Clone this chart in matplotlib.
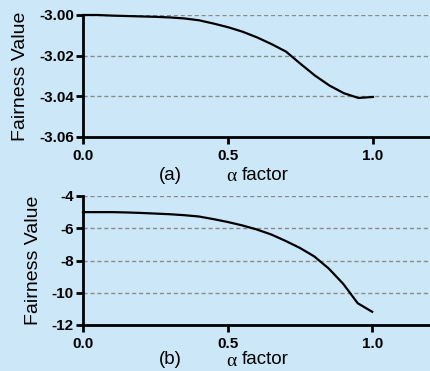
import matplotlib
matplotlib.use("Agg")
import matplotlib.pyplot as plt
import numpy as np

alpha = [0.0, 0.05, 0.1, 0.15, 0.2, 0.25, 0.3, 0.35, 0.4, 0.45, 0.5,
         0.55, 0.6, 0.65, 0.7, 0.75, 0.8, 0.85, 0.9, 0.95, 1.0]
fair_a = [-3.0000, -3.0000, -3.0003, -3.0005, -3.0007, -3.0009, -3.0012,
          -3.0017, -3.0026, -3.0042, -3.0060, -3.0082, -3.0110, -3.0143,
          -3.0180, -3.0240, -3.0298, -3.0347, -3.0385, -3.0408, -3.0403]
fair_b = [-5.0, -5.0, -5.0, -5.02, -5.05, -5.09, -5.13, -5.19, -5.27, -5.43,
          -5.61, -5.82, -6.07, -6.38, -6.78, -7.22, -7.75, -8.5, -9.45, -10.65,
          -11.18]
xticks = [0.0, 0.5, 1.0]
xticklabels = ["0.0", "0.5", "1.0"]
yticks_a = [-3.06, -3.04, -3.02, -3.00]
yticklabels_a = ["-3.06", "-3.04", "-3.02", "-3.00"]
yticks_b = [-12, -10, -8, -6, -4]
yticklabels_b = ["-12", "-10", "-8", "-6", "-4"]

bg = "#cce8f8"
W, H = 430, 371
fig = plt.figure(figsize=(W / 100, H / 100), dpi=100, facecolor=bg)

def px_axes(left, top, right, bottom):
    return fig.add_axes([left / W, 1 - bottom / H, (right - left) / W, (bottom - top) / H])

panels = [
    (px_axes(83, 15, 431, 137), fair_a, yticks_a, yticklabels_a, (-3.06, -3.00), "(a)", 175),
    (px_axes(83, 196, 430, 325), fair_b, yticks_b, yticklabels_b, (-12, -4), "(b)", 360),
]

for ax, ys, yt, ytl, ylim, tag, ty in panels:
    ax.set_facecolor(bg)
    for y in yt[1:]:
        ax.axhline(y, color="#8a8a8a", lw=1.0, ls=(0, (3, 2)), zorder=1)
    ax.plot(alpha, ys, color="black", lw=1.6, zorder=3, clip_on=False)
    ax.set_xlim(0, 1.2)
    ax.set_ylim(*ylim)
    ax.set_xticks(xticks)
    ax.set_xticklabels(xticklabels, fontsize=11, fontweight="bold", family="Liberation Sans")
    ax.set_yticks(yt)
    ax.set_yticklabels(ytl, fontsize=11, fontweight="bold", family="Liberation Sans")
    for s in ["top", "right"]:
        ax.spines[s].set_visible(False)
    for s in ["left", "bottom"]:
        ax.spines[s].set_linewidth(2)
    ax.tick_params(axis="both", direction="out", length=5, width=2)
    ax.tick_params(axis="x", pad=4)
    ax.tick_params(axis="y", pad=1.5)
    ax.set_ylabel("Fairness Value", fontsize=14, family="Liberation Sans", labelpad=7)
    fig.text(170 / W, 1 - ty / H, tag, fontsize=13.5, family="Liberation Sans", ha="center", va="center")
    fig.text(231 / W, 1 - (ty + 1) / H, "α", fontsize=14, family="Liberation Serif", ha="center", va="center")
    fig.text(242 / W, 1 - ty / H, "factor", fontsize=13.5, family="Liberation Sans", ha="left", va="center")

fig.savefig("out.png", dpi=100, facecolor=bg)
